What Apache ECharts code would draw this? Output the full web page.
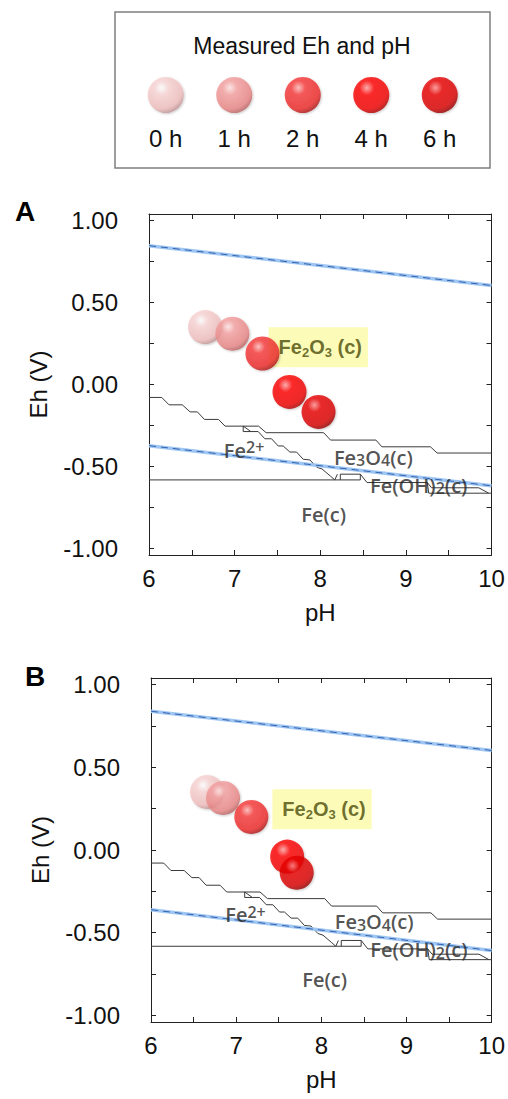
<!DOCTYPE html>
<html>
<head>
<meta charset="utf-8">
<script src="https://cdn.jsdelivr.net/npm/echarts@6/dist/echarts.min.js"></script>
<style>
html,body{margin:0;padding:0;background:#fff;}
#c{width:508px;height:1099px;}
</style>
</head>
<body>
<div id="c"></div>
<script>
// ---------- data ----------
const times = ['0 h', '1 h', '2 h', '4 h', '6 h'];
// Panel A measured points
const phA = [6.655, 6.974, 7.325, 7.641, 7.980];
const ehA = [0.350, 0.310, 0.189, -0.045, -0.167];
// Panel B measured points
const phB = [6.659, 6.846, 7.178, 7.599, 7.711];
const ehB = [0.351, 0.315, 0.200, -0.040, -0.137];

// water stability lines
const waterUpperA = [[6, 0.847], [10, 0.604]];
const waterLowerA = [[6, -0.373], [10, -0.618]];
const waterUpperB = [[6, 0.839], [10, 0.602]];
const waterLowerB = [[6, -0.361], [10, -0.608]];

// phase boundaries (Fe–H2O diagram)
const boundaryOxide = [[6.0,-0.079],[6.149,-0.079],[6.234,-0.124],[6.389,-0.124],[6.48,-0.167],[6.565,-0.167],[6.647,-0.213],[6.811,-0.213],[6.889,-0.254],[7.28,-0.254],[7.368,-0.294],[8.04,-0.294],[8.12,-0.339],[8.65,-0.339],[8.72,-0.380],[9.287,-0.380],[9.365,-0.418],[10,-0.418]];
const boundaryFe2Magnetite = [[7.1,-0.254],[7.19,-0.287],[7.275,-0.287],[7.353,-0.331],[7.431,-0.331],[7.509,-0.375],[7.567,-0.375],[7.645,-0.412],[7.723,-0.412],[7.801,-0.456],[7.879,-0.46],[7.96,-0.505],[8.02,-0.515],[8.117,-0.558],[8.17,-0.582],[8.2,-0.547]];
const boundaryJunction = [[7.1,-0.254],[7.1,-0.287],[7.19,-0.287]];
const boundaryFe2Fe = [[6,-0.582],[8.468,-0.582]];
const boundaryHydroxideBox = [[8.234,-0.582],[8.234,-0.547],[8.468,-0.547],[8.468,-0.582]];
const boundaryHydroxideUpper = [[8.468,-0.547],[8.546,-0.598],[9.25,-0.598],[9.3,-0.63],[9.851,-0.63],[9.968,-0.663]];
const boundaryHydroxideLower = [[9.25,-0.598],[9.267,-0.663],[10,-0.663]];

// ticks
const xTicks = [6, 6.5, 7, 7.5, 8, 8.5, 9, 9.5, 10];
const xTickLabels = [6, 7, 8, 9, 10];
const yTicks = [-1, -0.75, -0.5, -0.25, 0, 0.25, 0.5, 0.75, 1];
const yTickLabels = [-1, -0.5, 0, 0.5, 1];

// phase labels
const phaseTexts = ['{n|Fe}{sup|2+}', '{n|Fe}{sub|3}{n|O}{sub|4}{n|(c)}', '{n|Fe(OH)}{sub|2}{n|(c)}', '{n|Fe(c)}'];
const phaseLabelPosA = [[7.11, -0.400], [8.62, -0.445], [9.15, -0.616], [8.04, -0.795]];
const phaseLabelPosB = [[7.11, -0.392], [8.62, -0.435], [9.146, -0.604], [8.04, -0.783]];
const hematiteText = '{n|Fe}{sub|2}{n|O}{sub|3}{n| (c)}';
const hematitePosA = [[7.977, 0.227]];
const hematitePosB = [[8.008, 0.247]];

// ---------- styles ----------
const FONT = '"Liberation Sans", Arial, Helvetica, sans-serif';
const LFONT = '"Open Sans", "Noto Sans", sans-serif';
const sphereStyles = [
  ['#ffffff', '#f9d4d4', '#efbcbc', '#a98181'],
  ['#ffe4e4', '#f5a0a0', '#e88585', '#a45454'],
  ['#ffb8b8', '#f73a3a', '#ec2828', '#8e1212'],
  ['#ffa0a0', '#ff0808', '#f00000', '#900000'],
  ['#ff8c8c', '#ea0606', '#d80000', '#760000']
];
function sphere(i) {
  const s = sphereStyles[i];
  return {
    type: 'radial', x: 0.38, y: 0.3, r: 0.78,
    colorStops: [
      {offset: 0, color: s[0]},
      {offset: 0.25, color: s[1]},
      {offset: 0.75, color: s[2]},
      {offset: 1, color: s[3]}
    ]
  };
}
const LC = '#262626';
const richLabel = {
  n: {fontFamily: LFONT, fontSize: 20, fontWeight: 600, color: LC, lineHeight: 22, verticalAlign: 'middle'},
  sub: {fontFamily: LFONT, fontSize: 16, fontWeight: 600, color: LC, lineHeight: 12, verticalAlign: 'bottom'},
  sup: {fontFamily: LFONT, fontSize: 16, fontWeight: 600, color: LC, lineHeight: 12, verticalAlign: 'top'}
};
const richHem = {
  n: {fontFamily: FONT, fontSize: 20, fontWeight: 'bold', color: '#4a4a08', lineHeight: 24, verticalAlign: 'middle'},
  sub: {fontFamily: FONT, fontSize: 13, fontWeight: 'bold', color: '#4a4a08', lineHeight: 13, verticalAlign: 'bottom'}
};

function lineSeries(xi, yi, data, color, width, type, z) {
  return {
    type: 'line', xAxisIndex: xi, yAxisIndex: yi, data: data,
    showSymbol: false, symbol: 'none', silent: true, animation: false, z: z,
    lineStyle: {color: color, width: width, type: type}
  };
}

function panelSeries(xi, yi, ph, eh, wUp, wLow, labelPos, hemPos) {
  const s = [];
  const bl = '#3a3a3a';
  [boundaryOxide, boundaryFe2Magnetite, boundaryJunction, boundaryFe2Fe,
   boundaryHydroxideBox, boundaryHydroxideUpper, boundaryHydroxideLower].forEach(d => {
    s.push(lineSeries(xi, yi, d, bl, 1, 'solid', 2));
  });
  [wUp, wLow].forEach(d => {
    s.push(lineSeries(xi, yi, d, '#9fc6f3', 3.5, 'solid', 3));
    s.push(lineSeries(xi, yi, d, '#3564ad', 1, [7, 5], 4));
  });
  // phase labels
  s.push({
    type: 'scatter', xAxisIndex: xi, yAxisIndex: yi, symbolSize: 0, silent: true, animation: false, z: 5,
    data: labelPos.map((p, i) => ({value: p, label: {formatter: phaseTexts[i]}})),
    label: {show: true, position: 'inside', rich: richLabel}
  });
  // hematite label
  s.push({
    type: 'scatter', xAxisIndex: xi, yAxisIndex: yi, symbolSize: 0, silent: true, animation: false, z: 5,
    data: hemPos.map(p => ({value: p})),
    label: {show: true, position: 'inside', formatter: hematiteText, rich: richHem,
      backgroundColor: '#fbfba6', padding: [8, 6, 8, 10]}
  });
  // measured spheres
  s.push({
    type: 'scatter', xAxisIndex: xi, yAxisIndex: yi, symbolSize: 34, animation: false, z: 10,
    data: ph.map((v, i) => ({value: [v, eh[i]], itemStyle: {color: sphere(i)}})),
    itemStyle: {shadowBlur: 2, shadowColor: 'rgba(0,0,0,0.25)', shadowOffsetX: 1, shadowOffsetY: 1}
  });
  return s;
}

function xAxes(gi) {
  const base = {
    gridIndex: gi, type: 'value', min: 6, max: 10,
    axisLine: {show: true, onZero: false, lineStyle: {color: '#222', width: 1}},
    axisTick: {show: true, inside: true, length: 5, customValues: xTicks, lineStyle: {color: '#222'}},
    splitLine: {show: false}
  };
  return [
    Object.assign({}, base, {
      position: 'bottom',
      axisLabel: {show: true, customValues: xTickLabels, fontFamily: FONT, fontSize: 24, color: '#111', margin: 11},
      name: 'pH', nameLocation: 'middle', nameGap: 45,
      nameTextStyle: {fontFamily: FONT, fontSize: 24, color: '#111'}
    }),
    Object.assign({}, base, {position: 'top', axisLabel: {show: false}})
  ];
}
function yAxes(gi) {
  const base = {
    gridIndex: gi, type: 'value', min: -1.04, max: 1.04,
    axisLine: {show: true, onZero: false, lineStyle: {color: '#222', width: 1}},
    axisTick: {show: true, inside: true, length: 5, customValues: yTicks, lineStyle: {color: '#222'}},
    splitLine: {show: false}
  };
  return [
    Object.assign({}, base, {
      position: 'left',
      axisLabel: {show: true, customValues: yTickLabels, formatter: v => Number(v).toFixed(2),
        fontFamily: FONT, fontSize: 24, color: '#111', margin: 31},
      name: 'Eh (V)', nameLocation: 'middle', nameGap: 99, nameRotate: 90,
      nameTextStyle: {fontFamily: FONT, fontSize: 24, color: '#111'}
    }),
    Object.assign({}, base, {position: 'right', axisLabel: {show: false}})
  ];
}

const option = {
  backgroundColor: '#fff',
  animation: false,
  grid: [
    {left: 131.5, width: 342.5, top: 78, height: 34},
    {left: 149, width: 342.5, top: 214, height: 341},
    {left: 151, width: 342, top: 678, height: 344}
  ],
  xAxis: [
    {gridIndex: 0, type: 'category', data: times, boundaryGap: true,
     axisLine: {show: false}, axisTick: {show: false}, splitLine: {show: false},
     axisLabel: {fontFamily: FONT, fontSize: 24, color: '#111', margin: 14}}
  ].concat(xAxes(1), xAxes(2)),
  yAxis: [
    {gridIndex: 0, type: 'value', min: -1, max: 1, show: false}
  ].concat(yAxes(1), yAxes(2)),
  graphic: [
    {type: 'rect', shape: {x: 115, y: 12, width: 375, height: 156},
     style: {fill: 'none', stroke: '#7f7f7f', lineWidth: 1.5}, silent: true},
    {type: 'text', x: 302, y: 46,
     style: {text: 'Measured Eh and pH', font: '23px ' + FONT, fill: '#111', textAlign: 'center', textVerticalAlign: 'middle'}},
    {type: 'text', x: 25, y: 211,
     style: {text: 'A', font: 'bold 28px ' + FONT, fill: '#000', textAlign: 'center', textVerticalAlign: 'middle'}},
    {type: 'text', x: 35, y: 676,
     style: {text: 'B', font: 'bold 28px ' + FONT, fill: '#000', textAlign: 'center', textVerticalAlign: 'middle'}}
  ],
  series: [
    {
      type: 'scatter', xAxisIndex: 0, yAxisIndex: 0, symbolSize: 36, animation: false,
      data: times.map((t, i) => ({value: [t, 0], itemStyle: {color: sphere(i)}})),
      itemStyle: {shadowBlur: 2, shadowColor: 'rgba(0,0,0,0.25)', shadowOffsetX: 1, shadowOffsetY: 1}
    }
  ].concat(
    panelSeries(1, 1, phA, ehA, waterUpperA, waterLowerA, phaseLabelPosA, hematitePosA),
    panelSeries(3, 3, phB, ehB, waterUpperB, waterLowerB, phaseLabelPosB, hematitePosB)
  )
};

const chart = echarts.init(document.getElementById('c'), null, {renderer: 'svg'});
chart.setOption(option);
</script>
</body>
</html>
